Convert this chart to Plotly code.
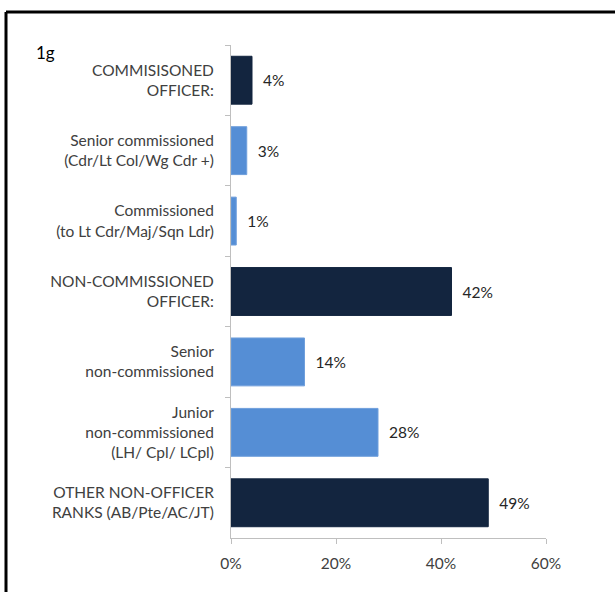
import plotly.graph_objects as go

categories = [
    "COMMISISONED<br>OFFICER:",
    "Senior commissioned<br>(Cdr/Lt Col/Wg Cdr +)",
    "Commissioned<br>(to Lt Cdr/Maj/Sqn Ldr)",
    "NON-COMMISSIONED<br>OFFICER:",
    "Senior<br>non-commissioned",
    "Junior<br>non-commissioned<br>(LH/ Cpl/ LCpl)",
    "OTHER NON-OFFICER<br>RANKS (AB/Pte/AC/JT)",
]
values = [0.04, 0.03, 0.01, 0.42, 0.14, 0.28, 0.49]
is_header = [True, False, False, True, False, False, True]
x_ticks = [0, 0.2, 0.4, 0.6]
x_tick_labels = ["0%", "20%", "40%", "60%"]

DARK = "#13253f"
LIGHT = "#558ed5"
colors = [DARK if h else LIGHT for h in is_header]
line_colors = [DARK if h else "#6f9fdc" for h in is_header]

FONT = "Lato, Open Sans, DejaVu Sans, sans-serif"
FS = 15.5

fig = go.Figure()
fig.add_trace(go.Bar(
    x=values,
    y=categories,
    orientation="h",
    width=0.68,
    marker=dict(color=colors, line=dict(color=line_colors, width=1)),
    text=["  " + f"{v:.0%}" for v in values],
    textposition="outside",
    textfont=dict(size=FS, color="#262626", family=FONT),
    cliponaxis=False,
    hoverinfo="skip",
))

W, H = 615, 592
L, R, T, B = 231, 69, 45, 54
pw = W - L - R
ph = H - T - B

def px_x(p):
    return (p - L) / pw

def px_y(p):
    return (H - B - p) / ph

fig.update_layout(
    width=W, height=H,
    margin=dict(l=L, r=R, t=T, b=B, pad=0),
    paper_bgcolor="white",
    plot_bgcolor="white",
    showlegend=False,
    font=dict(family=FONT, size=FS, color="#404040"),
    xaxis=dict(
        range=[0, 0.6],
        tickvals=x_ticks,
        ticktext=x_tick_labels,
        ticks="outside", ticklen=5, tickcolor="#bfbfbf",
        showgrid=False, zeroline=False,
        showline=True, linecolor="#bfbfbf", linewidth=1,
        tickfont=dict(size=FS, color="#404040"),
        ticklabelstandoff=6,
        fixedrange=True,
    ),
    yaxis=dict(
        autorange="reversed",
        type="category",
        ticks="outside", ticklen=5, tickcolor="#bfbfbf",
        tickson="boundaries",
        showgrid=False, zeroline=False,
        showline=True, linecolor="#bfbfbf", linewidth=1,
        tickfont=dict(size=FS, color="#404040"),
        ticklabelstandoff=13,
        fixedrange=True,
    ),
    shapes=[
        dict(type="line", xref="paper", yref="paper",
             x0=px_x(6), x1=px_x(640), y0=px_y(12), y1=px_y(12),
             line=dict(color="black", width=3)),
        dict(type="line", xref="paper", yref="paper",
             x0=px_x(6), x1=px_x(6), y0=px_y(12), y1=px_y(620),
             line=dict(color="black", width=3)),
    ],
    annotations=[
        dict(text="1g", xref="paper", yref="paper",
             x=px_x(34), y=px_y(52), xanchor="left", yanchor="middle",
             showarrow=False, font=dict(size=17, color="black", family=FONT)),
    ],
)

fig.write_html("out.html",
               config={"displayModeBar": False, "staticPlot": True},
               post_script="document.body.style.margin='0';document.body.style.overflow='hidden';")
